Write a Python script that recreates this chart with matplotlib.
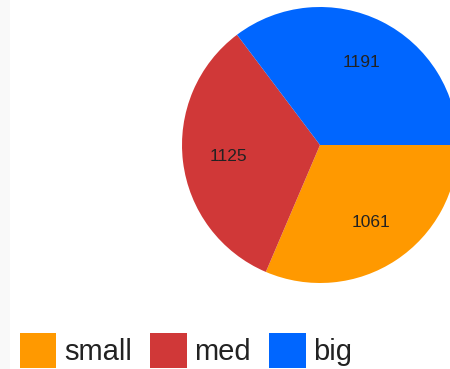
import matplotlib.pyplot as plt
from matplotlib.patches import Patch, Rectangle

plt.rcParams["font.family"] = ["Liberation Sans", "DejaVu Sans"]

labels = ["small", "med", "big"]
counts = [1061, 1125, 1191]
colors = ["#ff9900", "#d03838", "#0066ff"]

fig = plt.figure(figsize=(4.5, 3.69), dpi=100)

# faint grey strip down the left edge
fig.patches.append(Rectangle((0, 0), 10 / 450, 1, transform=fig.transFigure,
                             facecolor="#f9f9f9", edgecolor="none", zorder=0))

# pie axes: centre ~ (320, 145) px, radius ~138 px, runs off the right edge
ax = fig.add_axes([182 / 450, (369 - 283) / 369, 276 / 450, 276 / 369])
ax.pie(
    counts,
    colors=colors,
    startangle=0,
    counterclock=False,
    autopct=lambda p: "%d" % round(p * sum(counts) / 100),
    pctdistance=0.67,
    textprops={"fontsize": 12.5, "color": "#222222"},
    wedgeprops={"linewidth": 0},
)
ax.set_xlim(-1, 1)
ax.set_ylim(-1, 1)
ax.axis("off")

# legend along the bottom
handles = [Patch(facecolor=c, edgecolor="none") for c in colors]
fig.legend(
    handles,
    labels,
    loc="upper left",
    bbox_to_anchor=(20 / 450, 1 - 333 / 369),
    ncol=3,
    frameon=False,
    fontsize=21,
    handlelength=1.25,
    handleheight=1.45,
    handletextpad=0.25,
    columnspacing=0.64,
    borderpad=0,
    borderaxespad=0,
    labelcolor="#222222",
)

fig.savefig("out.png", dpi=100)
